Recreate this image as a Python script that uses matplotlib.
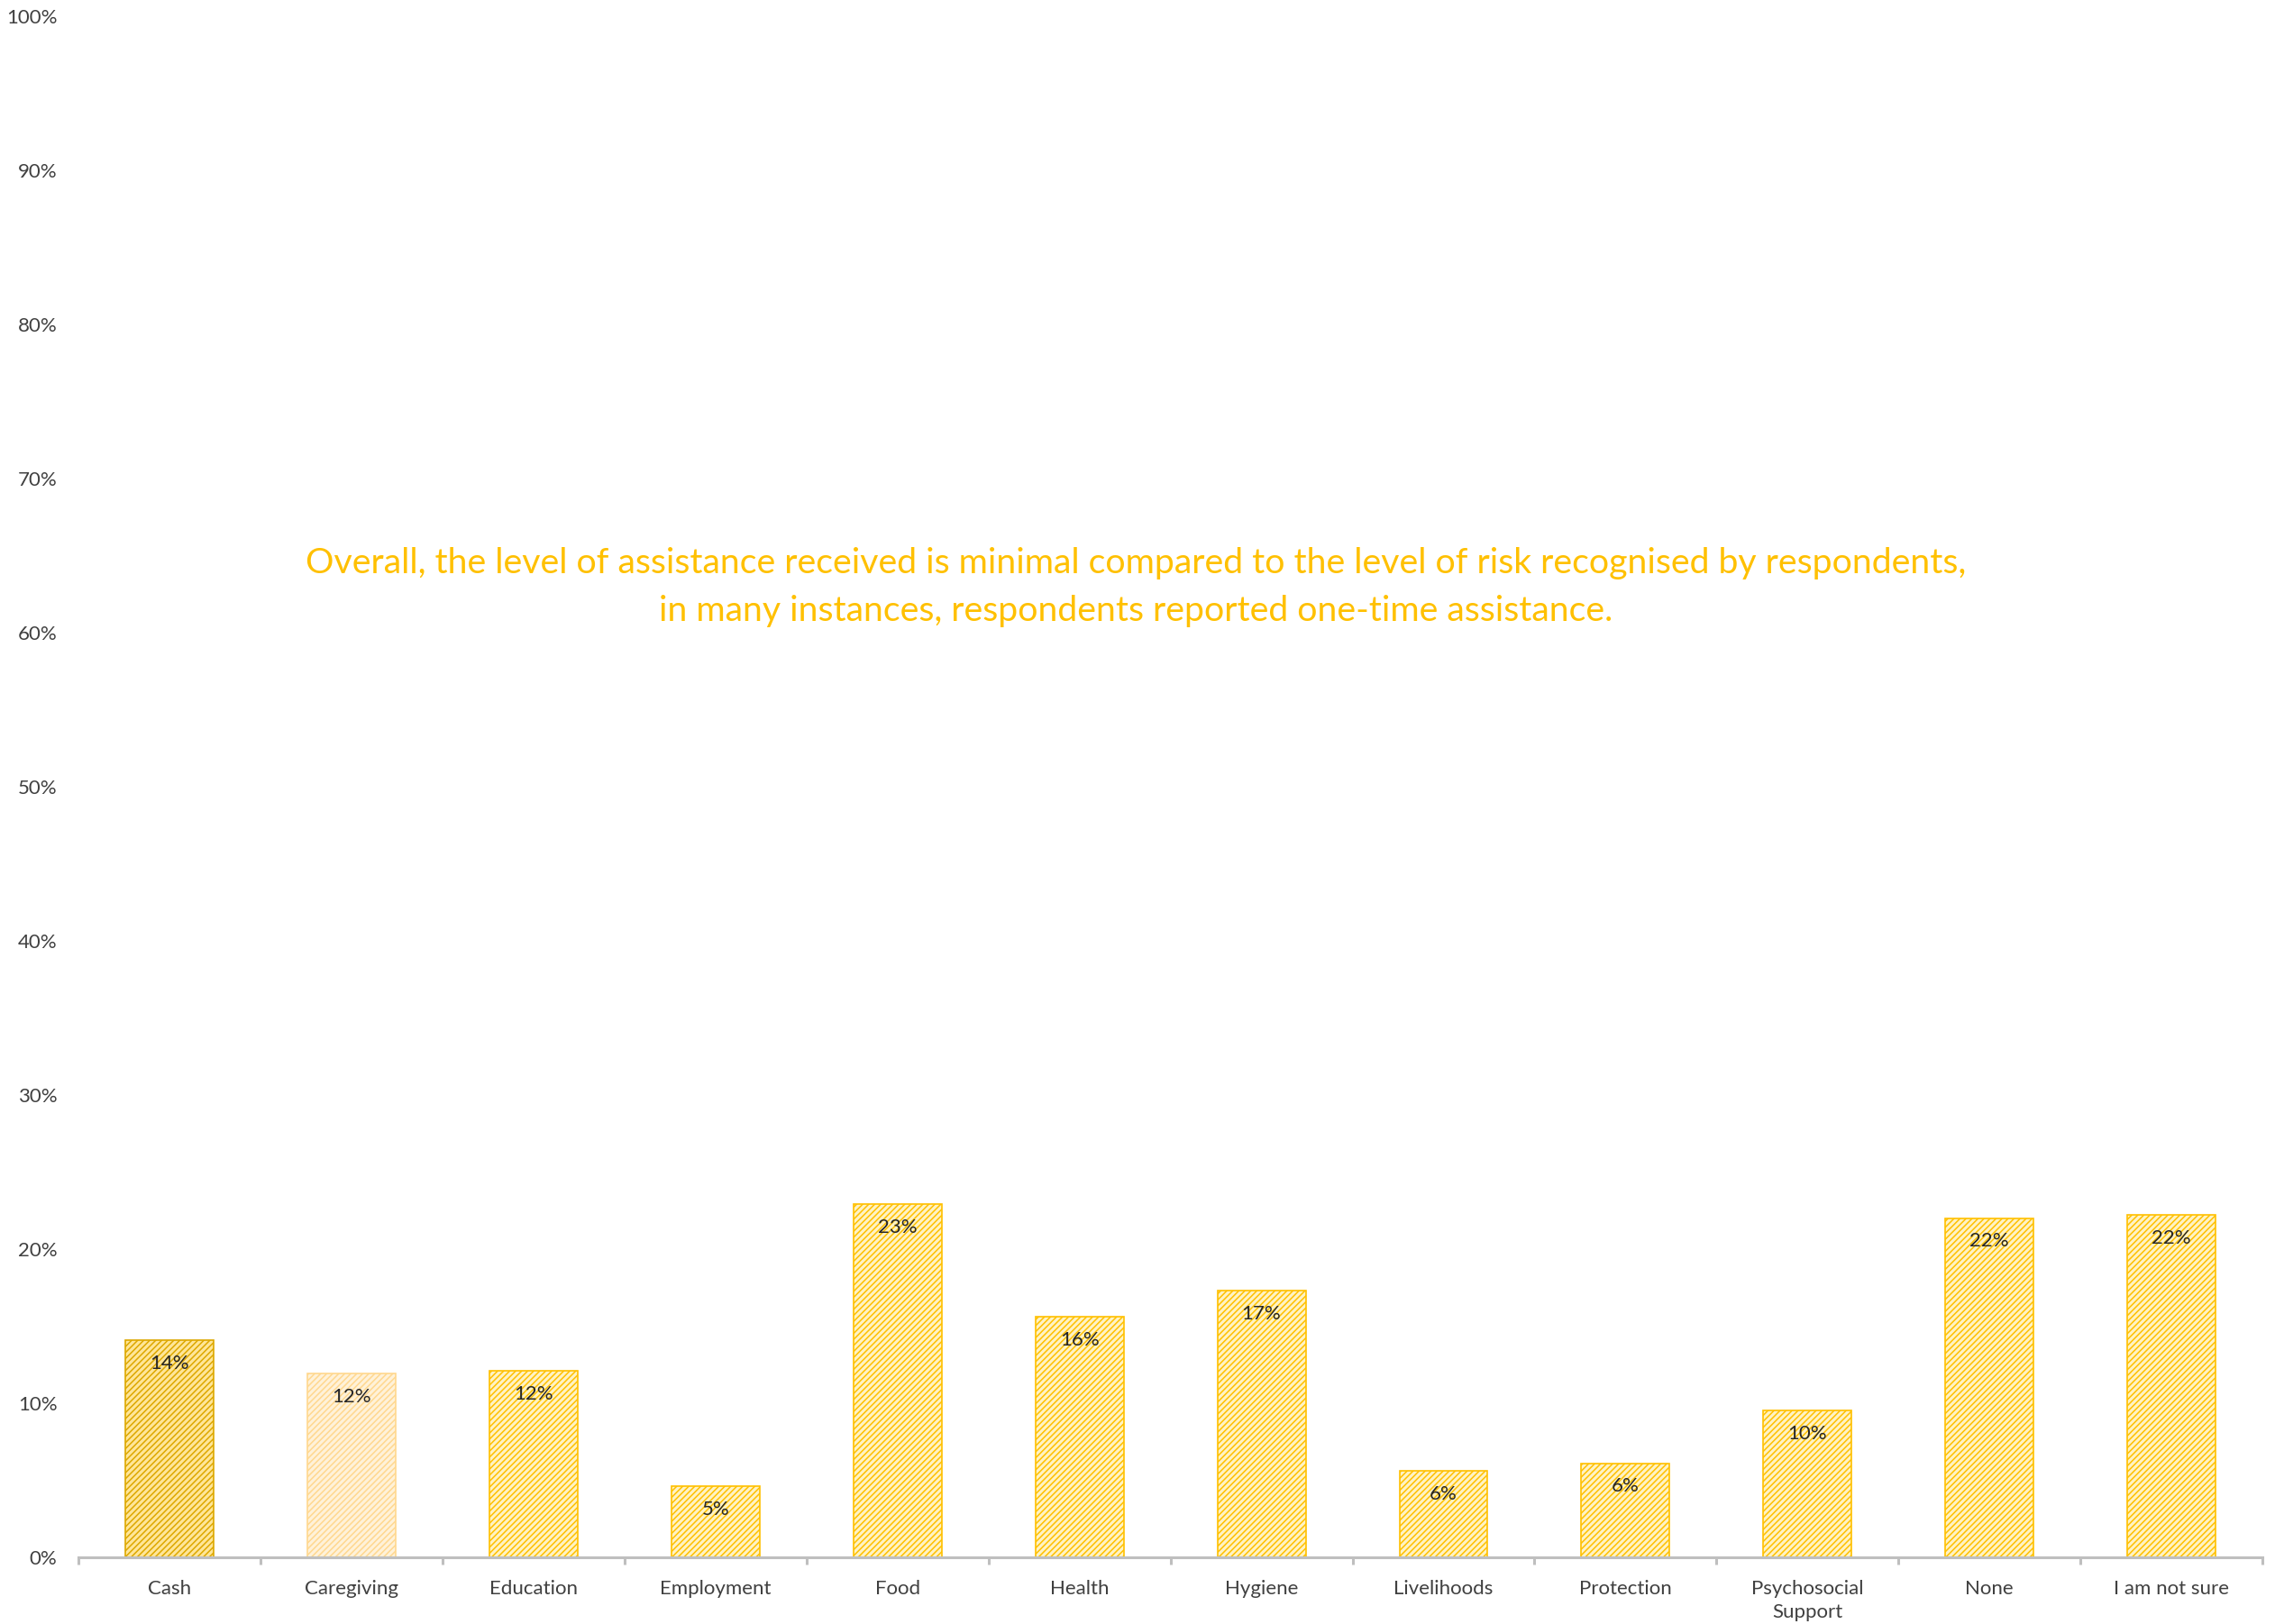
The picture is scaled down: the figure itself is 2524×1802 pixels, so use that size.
import matplotlib
matplotlib.use("Agg")
import matplotlib.pyplot as plt
from matplotlib.ticker import PercentFormatter, FixedLocator, NullFormatter

# Assistance types and share of respondents who received each
categories = ["Cash", "Caregiving", "Education", "Employment", "Food", "Health",
              "Hygiene", "Livelihoods", "Protection", "Psychosocial\nSupport",
              "None", "I am not sure"]
values = [0.141, 0.119, 0.121, 0.046, 0.229, 0.156,
          0.173, 0.056, 0.061, 0.095, 0.220, 0.222]
labels = ["14%", "12%", "12%", "5%", "23%", "16%",
          "17%", "6%", "6%", "10%", "22%", "22%"]

note_lines = [
    "Overall, the level of assistance received is minimal compared to the level of risk recognised by respondents,",
    "in many instances, respondents reported one-time assistance.",
]

plt.rcParams["font.family"] = ["Lato", "DejaVu Sans"]
plt.rcParams["hatch.linewidth"] = 1.1

TEXT = "#404040"
AXIS = "#BFBFBF"
GOLD = "#FFC000"

# (face, hatch/edge) per bar
styles = [("#FFE699", "#DDA800")] + [("#FFF2D9", "#FFD88F")] + [("#FFF3C4", "#FFC000")] * 10

fig = plt.figure(figsize=(25.24, 18.02), dpi=100)
ax = fig.add_axes([0.0345, 0.0411, 0.96, 0.949])

x = list(range(len(categories)))
for i, (v, (fc, hc)) in enumerate(zip(values, styles)):
    ax.bar(i, v, width=0.485, facecolor=fc, edgecolor=hc, hatch="/////", linewidth=1.2)
    ax.annotate(labels[i], xy=(i, v), xytext=(0, -18.5), textcoords="offset points",
                ha="center", va="center", fontsize=16, color="#262626")

ax.set_xlim(-0.5, len(categories) - 0.5)
ax.set_ylim(0, 1.0)

# Category boundaries carry the tick marks, centres carry the labels
ax.xaxis.set_major_locator(FixedLocator([k - 0.5 for k in range(len(categories) + 1)]))
ax.xaxis.set_major_formatter(NullFormatter())
ax.xaxis.set_minor_locator(FixedLocator(x))
ax.set_xticklabels(categories, minor=True)
for lbl in ax.get_xticklabels(minor=True):
    lbl.set_linespacing(1.35)
ax.tick_params(axis="x", which="major", length=5.5, width=2.2, color=AXIS, direction="out")
ax.tick_params(axis="x", which="minor", length=0, pad=18, labelsize=16, labelcolor=TEXT)

ax.set_yticks([k / 10 for k in range(11)])
ax.yaxis.set_major_formatter(PercentFormatter(1.0, decimals=0))
ax.tick_params(axis="y", length=0, pad=17, labelsize=16, labelcolor=TEXT)

for side in ("left", "top", "right"):
    ax.spines[side].set_visible(False)
ax.spines["bottom"].set_color(AXIS)
ax.spines["bottom"].set_linewidth(2.2)

fig.text(0.4992, 1 - 625 / 1802, note_lines[0], ha="center", va="center",
         fontsize=28.3, color=GOLD)
fig.text(0.4992, 1 - 678 / 1802, note_lines[1], ha="center", va="center",
         fontsize=28.3, color=GOLD)

fig.savefig("out.png", dpi=100)
